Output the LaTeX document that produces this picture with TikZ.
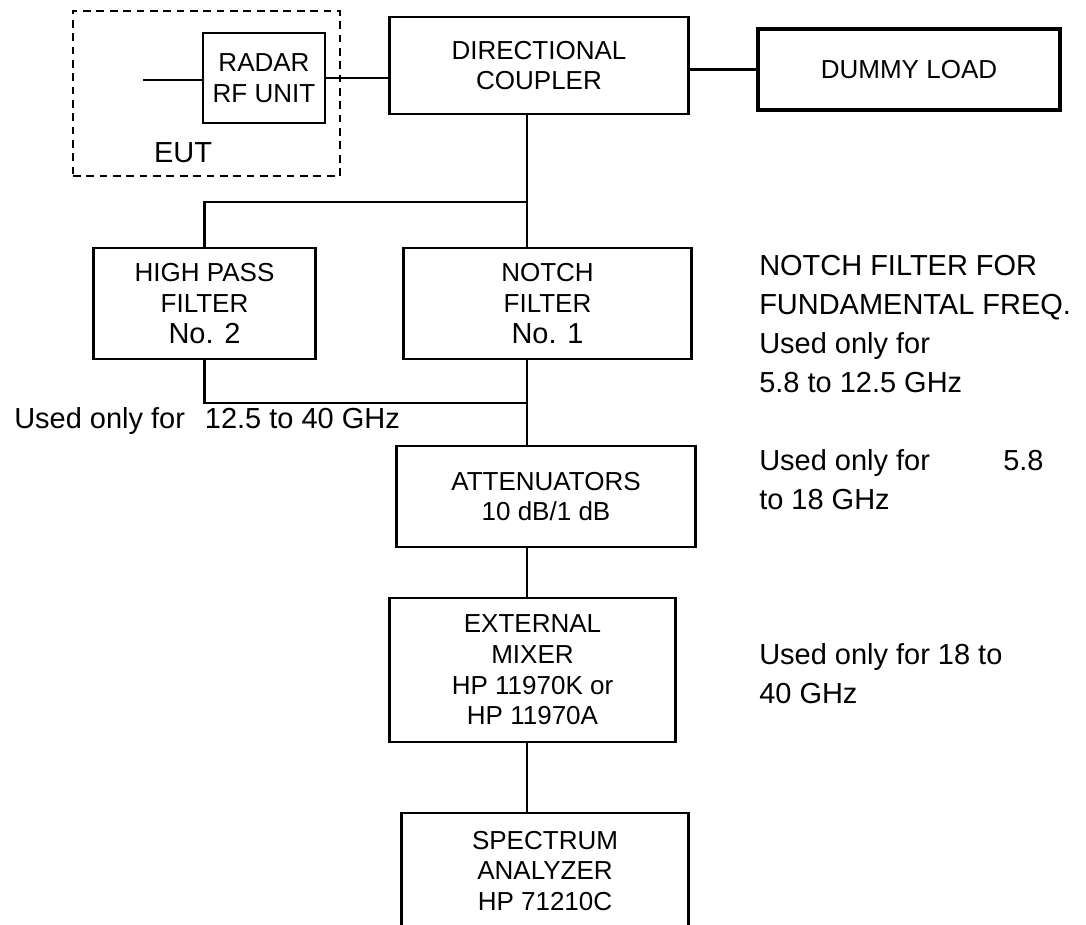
\documentclass[tikz,border=0pt]{standalone}
\usepackage{fontspec}
\setmainfont{Liberation Sans}
\usetikzlibrary{positioning}
\newcommand{\blockfont}{\fontsize{18.5}{21.8}\selectfont}
\newcommand{\remarkfont}{\fontsize{20.6}{27.7}\selectfont}
\tikzset{
block/.style={draw, line width=2.1pt, align=center, inner sep=0pt, font=\blockfont}, % every unit box
wire/.style={line width=1.5pt}, % lines between the units
remark/.style={anchor=west, align=left, inner sep=0pt, font=\remarkfont}, % notes beside the chain
}

\begin{document}
\begin{tikzpicture}[x=0.025cm, y=-0.025cm]
\clip (0,0) rectangle (1086,925);

% equipment under test
\node[draw, line width=1.5pt, dash pattern=on 5.5pt off 4pt, minimum width=6.675cm, minimum height=4.125cm] at (206.5,93.5) (eut) {};
\node[block, minimum width=3.05cm, minimum height=2.25cm] at (264,78) (radar) {RADAR\\RF UNIT};
\node[remark, anchor=center] at (183,153) (eutlabel) {EUT};

\node[block, minimum width=7.45cm, minimum height=2.425cm] at (539,65.5) (coupler) {DIRECTIONAL\\COUPLER};
\node[block, line width=2.6pt, minimum width=7.55cm, minimum height=2.025cm] at (909,69.5) (dummy) {DUMMY LOAD};

\node[block, minimum width=5.525cm, minimum height=2.775cm] at (204.5,303.5) (hp) {HIGH PASS\\FILTER\\{\remarkfont No. 2}};
\node[block, minimum width=7.175cm, minimum height=2.775cm] at (547.5,303.5) (notch) {NOTCH\\FILTER\\{\remarkfont No. 1}};
\node[block, minimum width=7.45cm, minimum height=2.525cm] at (546,496.5) (atten) {ATTENUATORS\\10 dB/1 dB};
\node[block, minimum width=7.125cm, minimum height=3.6cm] at (532.5,670) (mixer) {EXTERNAL\\MIXER\\HP 11970K or\\HP 11970A};
\node[block, minimum width=7.15cm, minimum height=2.9cm] at (545,871) (analyzer) {SPECTRUM\\ANALYZER\\HP 71210C};

% notes
\node[remark] at (14,421) (hpnote) {Used only for\hspace{0.3cm} 12.5 to 40 GHz};
\node[remark] at (759,324) (notchnote) {NOTCH FILTER FOR\\FUNDAMENTAL FREQ.\\Used only for\\5.8 to 12.5 GHz};
\node[remark] at (759,480) (attennote) {\makebox[6.1cm][l]{Used only for}5.8\\to 18 GHz};
\node[remark] at (759,674) (mixernote) {Used only for 18 to\\40 GHz};

% connections
\coordinate (feed) at (143,80);
\coordinate (bus) at (527,0);
\coordinate (split) at (527,202);
\coordinate (join) at (527,403);

\draw[wire] (feed) -- (feed -| radar.west);
\draw[wire] (radar.east) -- (radar.east -| coupler.west);
\draw[wire, line width=2.4pt] (dummy.west -| coupler.east) -- (dummy.west);
\draw[wire] (coupler.south -| bus) -- (split) -- (notch.north -| bus);
\draw[wire] (split) -| (hp.north);
\draw[wire] (hp.south) |- (join);
\draw[wire] (notch.south -| bus) -- (join) -- (atten.north -| bus);
\draw[wire] (atten.south -| bus) -- (mixer.north -| bus);
\draw[wire] (mixer.south -| bus) -- (analyzer.north -| bus);

\end{tikzpicture}
\end{document}
